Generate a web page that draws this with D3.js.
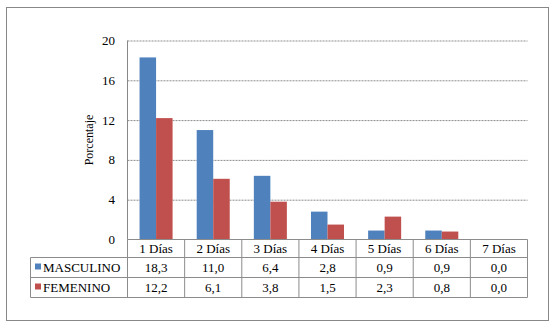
<!DOCTYPE html>
<html>
<head>
<meta charset="utf-8">
<script src="https://cdn.jsdelivr.net/npm/d3@7"></script>
<style>
  html, body { margin: 0; padding: 0; background: #fff; }
</style>
</head>
<body>
<svg id="chart" width="556" height="329"></svg>
<script>
// datos
const categories = ['1 Días', '2 Días', '3 Días', '4 Días', '5 Días', '6 Días', '7 Días']
const seriesNames = ['MASCULINO', 'FEMENINO']
const masculino = [18.3, 11.0, 6.4, 2.8, 0.9, 0.9, 0.0]
const femenino = [12.2, 6.1, 3.8, 1.5, 2.3, 0.8, 0.0]
const yTicks = [0, 4, 8, 12, 16, 20]
const colors = ['#4F81BD', '#C0504D']

const series = [masculino, femenino]
const svg = d3.select('#chart')
    .attr('font-family', "'Liberation Serif', 'DejaVu Serif', serif")
    .attr('font-size', 13)

// marco exterior
svg.append('rect')
    .attr('x', 6.5).attr('y', 7.5)
    .attr('width', 542).attr('height', 313)
    .attr('fill', '#fff')
    .attr('stroke', '#888').attr('stroke-width', 1)

const plotLeft = 127.5, plotRight = 527.5, plotTop = 40.5, plotBottom = 239.5
const x = d3.scaleBand().domain(categories).range([plotLeft, plotRight])
const y = d3.scaleLinear().domain([0, 20]).range([plotBottom, plotTop])
const inner = d3.scaleBand().domain(seriesNames)
    .range([0, x.bandwidth()]).paddingOuter(0.73).paddingInner(0)

// grid
const grid = svg.append('g')
    .attr('transform', `translate(${plotLeft},0)`)
    .call(d3.axisLeft(y).tickValues(yTicks.filter(d => d > 0)).tickSize(-(plotRight - plotLeft)).tickFormat(''))
grid.select('.domain').remove()
grid.selectAll('line')
    .attr('stroke', '#8c8c8c')
    .attr('stroke-dasharray', '2,1')

// etiquetas eje y
svg.append('g').selectAll('text')
    .data(yTicks)
    .join('text')
    .attr('x', 115)
    .attr('y', d => y(d) + 4.5)
    .attr('text-anchor', 'end')
    .text(d => d)

svg.append('text')
    .attr('transform', `translate(93,${(plotTop + plotBottom) / 2}) rotate(-90)`)
    .attr('text-anchor', 'middle')
    .attr('font-size', 12)
    .text('Porcentaje')

// barras
seriesNames.forEach((name, si) => {
    svg.append('g').selectAll('rect')
        .data(series[si])
        .join('rect')
        .attr('x', (d, i) => x(categories[i]) + inner(name))
        .attr('y', d => y(d))
        .attr('width', inner.bandwidth())
        .attr('height', d => plotBottom - y(d))
        .attr('fill', colors[si])
})

// eje vertical
svg.append('line')
    .attr('x1', plotLeft).attr('x2', plotLeft)
    .attr('y1', plotTop).attr('y2', plotBottom)
    .attr('stroke', '#888')

// tabla de datos
const rowTop = [plotBottom, 257.5, 277.5, 297.5]
const tableLeft = 30.5
const lineColor = '#8c8c8c'
const tbl = svg.append('g')

// líneas horizontales
tbl.append('line').attr('x1', plotLeft).attr('x2', plotRight)
    .attr('y1', rowTop[0]).attr('y2', rowTop[0]).attr('stroke', lineColor)
rowTop.slice(1).forEach(yy => {
    tbl.append('line').attr('x1', tableLeft).attr('x2', plotRight)
        .attr('y1', yy).attr('y2', yy).attr('stroke', lineColor)
})
// líneas verticales
categories.concat(['end']).forEach((c, i) => {
    const xx = i < categories.length ? x(c) : plotRight
    tbl.append('line').attr('x1', xx).attr('x2', xx)
        .attr('y1', rowTop[0]).attr('y2', rowTop[3]).attr('stroke', lineColor)
})
tbl.append('line').attr('x1', tableLeft).attr('x2', tableLeft)
    .attr('y1', rowTop[1]).attr('y2', rowTop[3]).attr('stroke', lineColor)

// categorías
tbl.selectAll('text.cat')
    .data(categories)
    .join('text')
    .attr('class', 'cat')
    .attr('x', d => x(d) + x.bandwidth() / 2)
    .attr('y', (rowTop[0] + rowTop[1]) / 2 + 4.5)
    .attr('text-anchor', 'middle')
    .text(d => d)

const fmt = v => v.toFixed(1).replace('.', ',')
seriesNames.forEach((name, si) => {
    const cy = (rowTop[si + 1] + rowTop[si + 2]) / 2
    tbl.append('rect')
        .attr('x', 35).attr('y', cy - 4)
        .attr('width', 6).attr('height', 6)
        .attr('fill', colors[si])
    tbl.append('text')
        .attr('x', 43).attr('y', cy + 4.5)
        .text(name)
    tbl.append('g').selectAll('text')
        .data(series[si])
        .join('text')
        .attr('x', (d, i) => x(categories[i]) + x.bandwidth() / 2)
        .attr('y', cy + 4.5)
        .attr('text-anchor', 'middle')
        .text(fmt)
})
</script>
</body>
</html>
